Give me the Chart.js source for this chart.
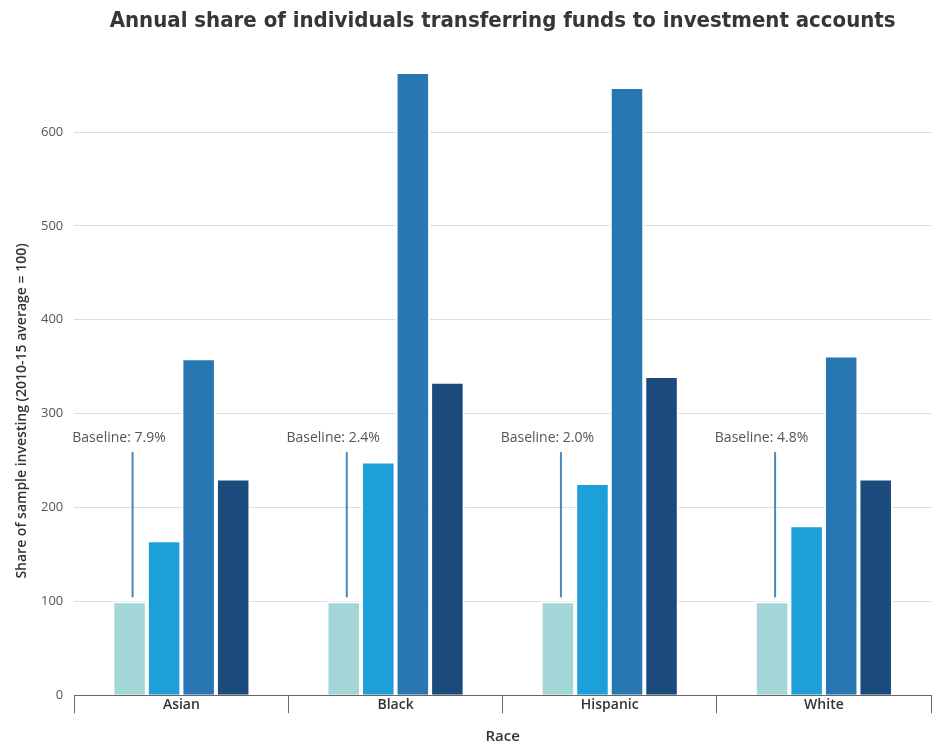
<!DOCTYPE html>
<html>
<head>
<meta charset="utf-8">
<script src="https://cdn.jsdelivr.net/npm/chart.js@4/dist/chart.umd.min.js"></script>
<style>
  html, body { margin: 0; padding: 0; background: #ffffff; }
  #wrap { width: 941px; height: 752px; position: relative; }
</style>
</head>
<body>
<div id="wrap"><canvas id="c" width="941" height="752"></canvas></div>
<script>
const categories = ["Asian", "Black", "Hispanic", "White"];
const seriesNames = ["2010-15 average", "Period 2", "Period 3", "Period 4"];
const series1 = [100, 100, 100, 100];
const series2 = [165, 249, 226, 181];
const series3 = [359, 664, 648, 362];
const series4 = [231, 334, 340, 231];
const baselineLabels = ["Baseline: 7.9%", "Baseline: 2.4%", "Baseline: 2.0%", "Baseline: 4.8%"];
const yTicks = [0, 100, 200, 300, 400, 500, 600];
const chartTitle = "Annual share of individuals transferring funds to investment accounts";
const yTitle = "Share of sample investing (2010-15 average = 100)";
const xTitle = "Race";

const colors = ["#a3d6d7", "#1d9fd7", "#2877b3", "#1b4a7d"];
const condensed = "'Liberation Sans Narrow', 'DejaVu Sans Condensed', 'Open Sans', sans-serif";
const bodyFont = "'Open Sans', 'Liberation Sans', sans-serif";

const notesPlugin = {
  id: 'notes',
  afterDatasetsDraw(chart) {
    const ctx = chart.ctx;
    const x = chart.scales.x;
    const y = chart.scales.y;
    const meta = chart.getDatasetMeta(0);
    const step = x.getPixelForValue(1) - x.getPixelForValue(0);
    ctx.save();
    categories.forEach((c, i) => {
      const bar = meta.data[i];
      const left = x.getPixelForValue(i) - step / 2;
      ctx.font = "14px " + bodyFont;
      ctx.fillStyle = "#555555";
      ctx.textAlign = "left";
      ctx.textBaseline = "middle";
      ctx.fillText(baselineLabels[i], left - 2, y.getPixelForValue(274));
      ctx.strokeStyle = "#4a86b8";
      ctx.lineWidth = 2;
      ctx.beginPath();
      ctx.moveTo(bar.x + 3, y.getPixelForValue(259));
      ctx.lineTo(bar.x + 3, y.getPixelForValue(series1[i]) - 4);
      ctx.stroke();
    });
    // main title
    const ca = chart.chartArea;
    ctx.font = "bold 22px " + condensed;
    ctx.fillStyle = "#363636";
    ctx.textAlign = "center";
    ctx.textBaseline = "middle";
    ctx.fillText(chartTitle, (ca.left + ca.right) / 2, 21);
    // y title
    ctx.save();
    ctx.translate(22, 411);
    ctx.rotate(-Math.PI / 2);
    ctx.font = "600 14px " + bodyFont;
    ctx.fillStyle = "#333333";
    ctx.fillText(yTitle, 0, 0);
    ctx.restore();
    ctx.restore();
  }
};

const datasets = [series1, series2, series3, series4].map((d, i) => ({
  label: seriesNames[i],
  data: d,
  backgroundColor: colors[i],
  borderColor: "#ffffff",
  borderWidth: {top: 2, left: 2, right: 2, bottom: 0},
  borderSkipped: false,
  categoryPercentage: 0.645,
  barPercentage: 1.0
}));

new Chart(document.getElementById('c'), {
  type: 'bar',
  data: { labels: categories, datasets },
  options: {
    responsive: false,
    animation: false,
    layout: { padding: { left: 30, right: 10, top: 57, bottom: 6 } },
    plugins: {
      legend: { display: false },
      tooltip: { enabled: false },
      title: { display: false }
    },
    scales: {
      x: {
        grid: { display: true, offset: true, drawOnChartArea: false, drawTicks: true, tickLength: 18, color: "#666666", lineWidth: 1 },
        border: { display: true, color: "#666666", width: 1 },
        ticks: { font: { family: bodyFont, size: 14, weight: '600' }, color: "#333333", padding: -17 },
        title: { display: true, text: xTitle, font: { family: bodyFont, size: 15, weight: '600' }, color: "#333333", padding: { top: 32, bottom: 0 } }
      },
      y: {
        min: 0,
        max: 680,
        afterBuildTicks(axis) { axis.ticks = yTicks.map(v => ({ value: v })); },
        grid: { color: "#dddddd", drawTicks: false, lineWidth: 1 },
        border: { display: false },
        ticks: { font: { family: bodyFont, size: 13 }, color: "#555555", padding: 11 },
        title: { display: false }
      }
    }
  },
  plugins: [notesPlugin]
});
</script>
</body>
</html>
